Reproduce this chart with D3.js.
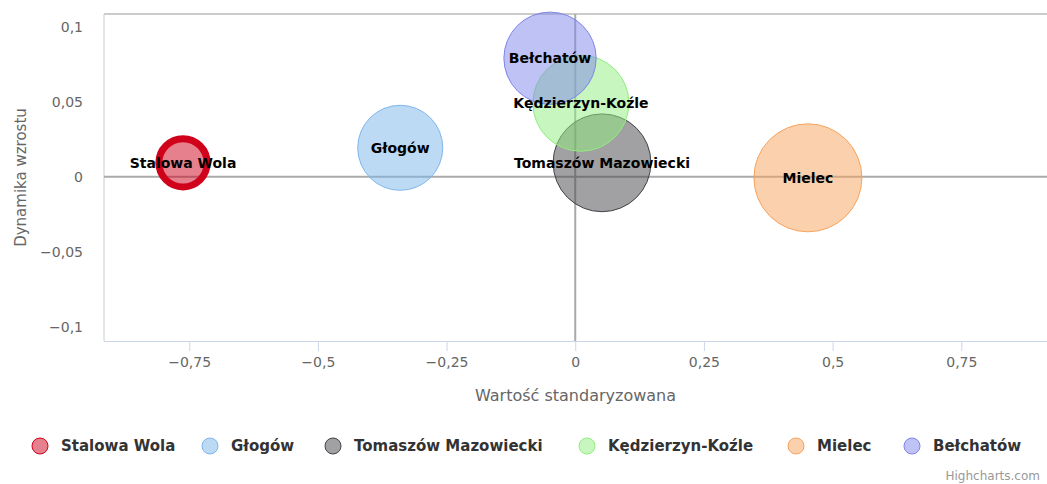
<!DOCTYPE html>
<html>
<head>
<meta charset="utf-8">
<script src="https://cdn.jsdelivr.net/npm/d3@7"></script>
<style>
  body { margin: 0; background: #fff; }
  text { font-family: "DejaVu Sans", "Lucida Grande", Arial, sans-serif; }
</style>
</head>
<body>
<svg id="chart" width="1047" height="484"></svg>
<script>
// data
let cities = ["Stalowa Wola", "Głogów", "Tomaszów Mazowiecki", "Kędzierzyn-Koźle", "Mielec", "Bełchatów"];
let xValues = [-0.762, -0.34, 0.052, 0.011, 0.452, -0.049];
let yValues = [0.0093, 0.0193, 0.0093, 0.049, -0.0007, 0.079];
let zValues = [20, 62, 82, 79, 100, 73];
let colors = ["#d0021b", "#7cb5ec", "#434348", "#90ed7d", "#f7a35c", "#8085e9"];
let xTicks = [-0.75, -0.5, -0.25, 0, 0.25, 0.5, 0.75];
let yTicks = [-0.1, -0.05, 0, 0.05, 0.1];

let plotLeft = 104, plotRight = 1047, plotTop = 14, plotBottom = 341;

let svg = d3.select("#chart");

let x = d3.scaleLinear().domain([-0.9155, 0.9165]).range([plotLeft, plotRight]);
let y = d3.scaleLinear().domain([-0.1095, 0.1085]).range([plotBottom, plotTop]);
let r = d3.scaleSqrt().domain([0, 100]).range([0, 54]);

let fmt = d => d3.format(",")(d).replace(".", ",").replace("-", "\u2212");

// plot border (top + left)
svg.append("line").attr("x1", plotLeft).attr("x2", plotRight).attr("y1", plotTop).attr("y2", plotTop)
  .attr("stroke", "#ccc").attr("stroke-width", 2);
svg.append("line").attr("x1", plotLeft).attr("x2", plotLeft).attr("y1", plotTop).attr("y2", plotBottom)
  .attr("stroke", "#ccc").attr("stroke-width", 1);

// x axis
let xAxis = d3.axisBottom(x).tickValues(xTicks).tickSize(10).tickPadding(6).tickFormat(fmt);
let gx = svg.append("g").attr("transform", `translate(0,${plotBottom})`).call(xAxis);
gx.select(".domain").attr("stroke", "#ccd6eb").attr("d", `M${plotLeft},0.5H${plotRight}`);
gx.selectAll(".tick line").attr("stroke", "#ccd6eb");
gx.selectAll(".tick text").attr("fill", "#666").style("font-size", "14px").attr("dy", "0.71em");

// y axis
let yAxis = d3.axisLeft(y).tickValues(yTicks).tickSize(0).tickPadding(21).tickFormat(fmt);
let gy = svg.append("g").attr("transform", `translate(${plotLeft},0)`).call(yAxis);
gy.select(".domain").remove();
gy.selectAll(".tick text").attr("fill", "#666").style("font-size", "14px");

// axis titles
svg.append("text").attr("x", (plotLeft + plotRight) / 2).attr("y", 401)
  .attr("text-anchor", "middle").attr("fill", "#666").style("font-size", "16px")
  .text("Wartość standaryzowana");
svg.append("text").attr("transform", `translate(26,${(plotTop + plotBottom) / 2}) rotate(-90)`)
  .attr("text-anchor", "middle").attr("fill", "#666").style("font-size", "15px")
  .text("Dynamika wzrostu");

// zero plot lines
svg.append("line").attr("x1", plotLeft).attr("x2", plotRight).attr("y1", y(0)).attr("y2", y(0))
  .attr("stroke", "#aaa").attr("stroke-width", 2);
svg.append("line").attr("x1", x(0)).attr("x2", x(0)).attr("y1", plotTop).attr("y2", plotBottom)
  .attr("stroke", "#aaa").attr("stroke-width", 2);

// bubbles
let points = cities.map((c, i) => ({ name: c, x: xValues[i], y: yValues[i], z: zValues[i], color: colors[i] }));

svg.append("g").selectAll("circle")
  .data(points)
  .join("circle")
  .attr("cx", d => x(d.x))
  .attr("cy", d => y(d.y))
  .attr("r", d => r(d.z))
  .attr("fill", d => d.color)
  .attr("fill-opacity", 0.5)
  .attr("stroke", d => d.color)
  .attr("stroke-width", (d, i) => i == 0 ? 7 : 1);

svg.append("g").selectAll("text")
  .data(points)
  .join("text")
  .attr("x", d => x(d.x))
  .attr("y", d => y(d.y))
  .attr("dy", "0.35em")
  .attr("text-anchor", "middle")
  .attr("fill", "#000")
  .style("font-size", "14px")
  .style("font-weight", "bold")
  .text(d => d.name);

// legend
let legendX = [40, 210, 333, 587, 796, 912];
let legend = svg.append("g").selectAll("g")
  .data(points)
  .join("g")
  .attr("transform", (d, i) => `translate(${legendX[i]},446)`);
legend.append("circle").attr("r", 8)
  .attr("fill", d => d.color).attr("fill-opacity", 0.5)
  .attr("stroke", d => d.color).attr("stroke-width", 1);
legend.append("text").attr("x", 21).attr("dy", "0.35em")
  .attr("fill", "#333").style("font-size", "15px").style("font-weight", "bold")
  .text(d => d.name);

// credit
svg.append("text").attr("x", 1040).attr("y", 480).attr("text-anchor", "end")
  .attr("fill", "#999").style("font-size", "12px").text("Highcharts.com");
</script>
</body>
</html>
